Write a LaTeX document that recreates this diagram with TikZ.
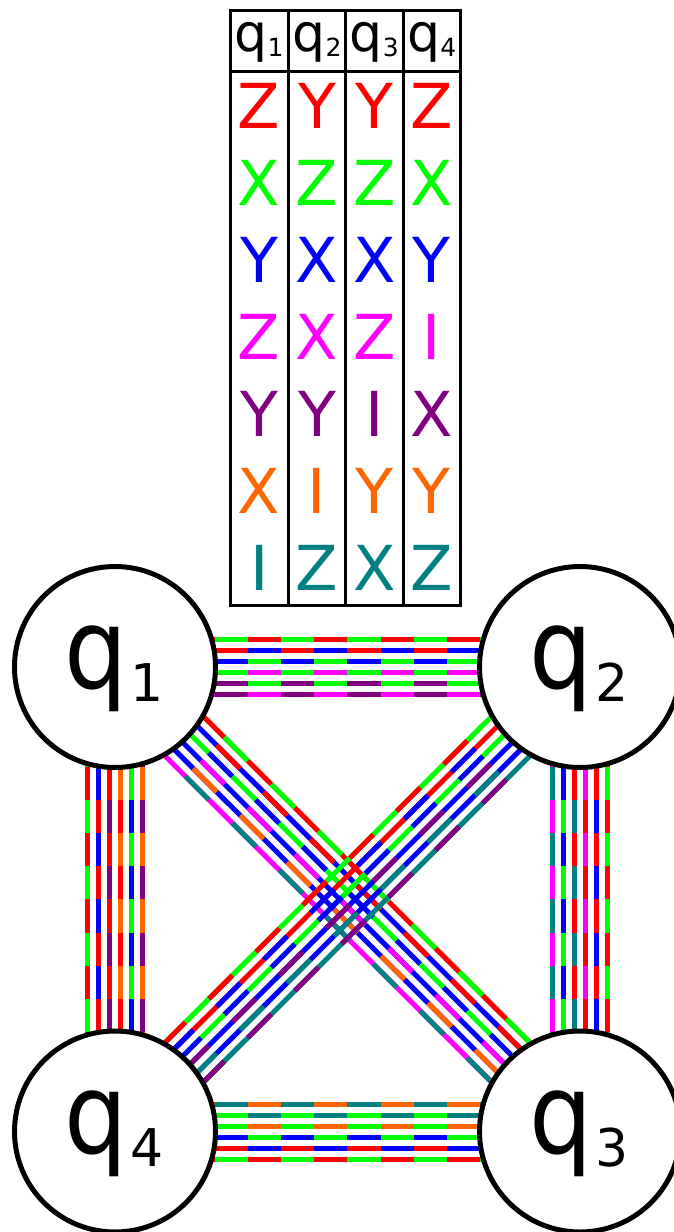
\documentclass[tikz,border=0pt]{standalone}
\usepackage{fontspec}
\usepackage{graphicx}
\setmainfont{DejaVu Sans}
\usetikzlibrary{calc}
\definecolor{cR}{RGB}{255,0,0}
\definecolor{cG}{RGB}{0,255,0}
\definecolor{cB}{RGB}{0,0,255}
\definecolor{cM}{RGB}{255,0,255}
\definecolor{cP}{RGB}{128,0,128}
\definecolor{cO}{RGB}{255,102,0}
\definecolor{cT}{RGB}{0,128,128}
\newcommand\dl{33.2pt}
\newcommand\bigq[1]{\scalebox{0.89}[1]{\fontsize{112pt}{112pt}\selectfont q}\kern3pt\raisebox{-13pt}{\fontsize{52pt}{52pt}\selectfont #1}}
\newcommand\smq[1]{{\fontsize{52pt}{52pt}\selectfont q}\raisebox{-5pt}{\fontsize{25pt}{25pt}\selectfont #1}}
\newcommand\pair[6]{%
  \draw[bl,#4] ($(#1)+#3$) -- ($(#2)+#3$);
  \draw[bl,#5,dash pattern=on \dl off \dl,dash phase=#6] ($(#1)+#3$) -- ($(#2)+#3$);}
\tikzset{
  qubit/.style={circle,draw=black,line width=5pt,fill=white,minimum size=201pt,inner sep=0pt},
  bl/.style={line width=5pt},
  qlab/.style={anchor=base west,inner sep=0pt},
  hlab/.style={anchor=base,inner sep=0pt},
  tl/.style={inner sep=0pt,font=\fontsize{62pt}{62pt}\selectfont},
  tabline/.style={line width=3pt}
}
\begin{document}
\begin{tikzpicture}[x=1pt,y=-1pt]
\useasboundingbox (0,0) rectangle (673,1232);
% qubit positions
\coordinate (c1) at (115,667);
\coordinate (c2) at (580,667);
\coordinate (c3) at (580,1131.5);
\coordinate (c4) at (115,1131.5);
% top edge q1-q2
\pair{c1}{c2}{(0,-27.5)}{cR}{cG}{\dl}
\pair{c1}{c2}{(0,-16.5)}{cB}{cR}{\dl}
\pair{c1}{c2}{(0,-5.5)}{cG}{cB}{\dl}
\pair{c1}{c2}{(0,5.5)}{cM}{cG}{\dl}
\pair{c1}{c2}{(0,16.5)}{cG}{cP}{\dl}
\pair{c1}{c2}{(0,27.5)}{cM}{cP}{\dl}
% left edge q1-q4
\pair{c1}{c4}{(-27.5,0)}{cG}{cR}{\dl}
\pair{c1}{c4}{(-16.5,0)}{cR}{cB}{\dl}
\pair{c1}{c4}{(-5.5,0)}{cP}{cR}{\dl}
\pair{c1}{c4}{(5.5,0)}{cR}{cO}{\dl}
\pair{c1}{c4}{(16.5,0)}{cB}{cG}{\dl}
\pair{c1}{c4}{(27.5,0)}{cP}{cO}{\dl}
% right edge q2-q3
\pair{c2}{c3}{(-27.5,0)}{cM}{cT}{\dl}
\pair{c2}{c3}{(-16.5,0)}{cG}{cB}{\dl}
\pair{c2}{c3}{(-5.5,0)}{cT}{cR}{\dl}
\pair{c2}{c3}{(5.5,0)}{cR}{cM}{\dl}
\pair{c2}{c3}{(16.5,0)}{cB}{cR}{\dl}
\pair{c2}{c3}{(27.5,0)}{cR}{cG}{\dl}
% bottom edge q4-q3
\pair{c4}{c3}{(0,-27.5)}{cO}{cT}{\dl}
\pair{c4}{c3}{(0,-16.5)}{cT}{cG}{\dl}
\pair{c4}{c3}{(0,-5.5)}{cO}{cG}{\dl}
\pair{c4}{c3}{(0,5.5)}{cG}{cB}{\dl}
\pair{c4}{c3}{(0,16.5)}{cB}{cR}{\dl}
\pair{c4}{c3}{(0,27.5)}{cR}{cG}{\dl}
% diagonal q1-q3
\pair{c1}{c3}{(19.45,-19.45)}{cR}{cG}{5.8pt}
\pair{c1}{c3}{(11.67,-11.67)}{cB}{cR}{5.8pt}
\pair{c1}{c3}{(3.89,-3.89)}{cG}{cB}{5.8pt}
\pair{c1}{c3}{(-3.89,3.89)}{cB}{cM}{5.8pt}
\pair{c1}{c3}{(-11.67,11.67)}{cB}{cO}{5.8pt}
\pair{c1}{c3}{(-19.45,19.45)}{cM}{cT}{5.8pt}
% diagonal q2-q4
\pair{c2}{c4}{(-19.45,-19.45)}{cG}{cR}{1pt}
\pair{c2}{c4}{(-11.67,-11.67)}{cR}{cB}{1pt}
\pair{c2}{c4}{(-3.89,-3.89)}{cG}{cB}{1pt}
\pair{c2}{c4}{(3.89,3.89)}{cB}{cP}{1pt}
\pair{c2}{c4}{(11.67,11.67)}{cB}{cT}{1pt}
\pair{c2}{c4}{(19.45,19.45)}{cT}{cP}{1pt}
% qubits
\node[qubit] (q1) at (c1) {};
\node[qubit] (q2) at (c2) {};
\node[qubit] (q3) at (c3) {};
\node[qubit] (q4) at (c4) {};
\node[qlab] (q1t) at ($(q1)+(-51,21.5)$) {\bigq{1}};
\node[qlab] (q2t) at ($(q2)+(-51,21.5)$) {\bigq{2}};
\node[qlab] (q3t) at ($(q3)+(-51,21.5)$) {\bigq{3}};
\node[qlab] (q4t) at ($(q4)+(-51,21.5)$) {\bigq{4}};
% table
\draw[tabline] (230,10.7) rectangle (460.7,605);
\draw[tabline] (230,71) -- (460.7,71);
\foreach \x in {288.3,345.7,403} \draw[tabline] (\x,10.7) -- (\x,605);
\node[hlab] (h1) at (259.15,51.7) {\smq{1}};
\node[hlab] (h2) at (317,51.7) {\smq{2}};
\node[hlab] (h3) at (374.35,51.7) {\smq{3}};
\node[hlab] (h4) at (431.85,51.7) {\smq{4}};
\foreach \c/\a/\b/\cc/\d [count=\i] in {cR/Z/Y/Y/Z, cG/X/Z/Z/X, cB/Y/X/X/Y, cM/Z/X/Z/I, cP/Y/Y/I/X, cO/X/I/Y/Y, cT/I/Z/X/Z}{
  \node[tl,text=\c] (r\i a) at (259.15,{105.8+77*(\i-1)}) {\a};
  \node[tl,text=\c] (r\i b) at (317,{105.8+77*(\i-1)}) {\b};
  \node[tl,text=\c] (r\i c) at (374.35,{105.8+77*(\i-1)}) {\cc};
  \node[tl,text=\c] (r\i d) at (431.85,{105.8+77*(\i-1)}) {\d};
}
\end{tikzpicture}
\end{document}
